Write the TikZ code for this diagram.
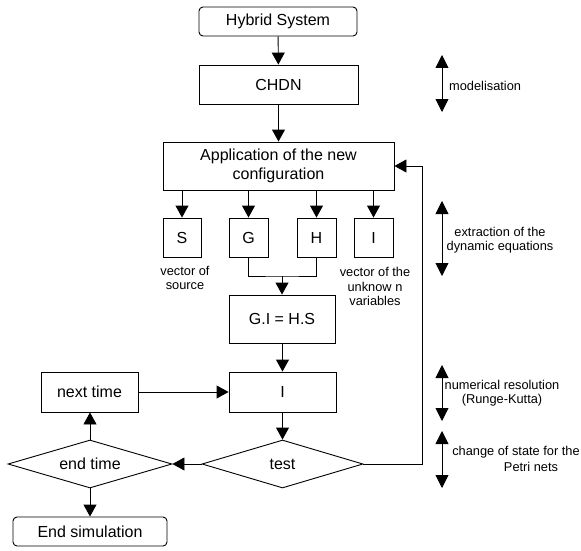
\documentclass[tikz,border=0pt]{standalone}
\usepackage{fontspec}
\setmainfont{Liberation Sans}
\usetikzlibrary{arrows.meta,shapes.geometric}
\tikzset{
  boxtxt/.style={font=\fontsize{16}{19}\selectfont},
  smalltxt/.style={font=\fontsize{12.8}{14.6}\selectfont, align=center, inner sep=0pt},
  box/.style={draw, line width=0.9pt, boxtxt, inner sep=0pt, align=center},
  rbox/.style={box, rounded corners=4pt},
  dia/.style={draw, line width=0.9pt, boxtxt, diamond, aspect=3.4, inner sep=0pt},
  arr/.style={line width=0.9pt, -{Triangle[length=12pt,width=13pt]}},
  ln/.style={line width=0.9pt},
  dbl/.style={line width=0.9pt, {Triangle[length=13pt,width=13pt]}-{Triangle[length=13pt,width=13pt]}},
}
\begin{document}
\begin{tikzpicture}[x=1pt,y=-1pt]
\useasboundingbox (0,0) rectangle (581,551);
% nodes
\node[rbox, minimum width=158pt, minimum height=29pt] (hs) at (278,21.5) {Hybrid System};
\node[box, minimum width=159pt, minimum height=39pt] (chdn) at (278.5,84.5) {CHDN};
\node[box, minimum width=231pt, minimum height=48pt] (app) at (278.5,166) {Application of the new\\configuration};
\node[box, minimum width=38pt, minimum height=39pt] (S) at (182,237.5) {S};
\node[box, minimum width=39pt, minimum height=39pt] (G) at (248.5,237.5) {G};
\node[box, minimum width=39pt, minimum height=39pt] (H) at (316.5,237.5) {H};
\node[box, minimum width=39pt, minimum height=39pt] (I) at (373.5,237.5) {I};
\node[box, minimum width=106pt, minimum height=48pt] (eq) at (282,319) {G.I = H.S};
\node[box, minimum width=107pt, minimum height=40pt] (Ib) at (282.5,392) {I};
\node[box, minimum width=97pt, minimum height=40pt] (next) at (89.5,392) {next time};
\node[dia, minimum width=161pt, minimum height=48pt] (test) at (282.5,464) {test};
\node[dia, minimum width=164pt, minimum height=48pt] (endt) at (90,464) {end time};
\node[rbox, minimum width=154pt, minimum height=29pt] (endsim) at (90,531.5) {End simulation};
% labels
\node[smalltxt] (vs) at (185,278) {vector of\\source};
\node[smalltxt] (vu) at (375,286.5) {vector of the\\unknow n\\variables};
\node[smalltxt, anchor=west] (lmod) at (449,86) {modelisation};
\node[smalltxt] (lext) at (500,240) {extraction of the\\dynamic equations};
\node[smalltxt] (lnum) at (502,393) {numerical resolution\\(Runge-Kutta)};
\node[smalltxt] (lch1) at (516,452) {change of state for the};
\node[smalltxt] (lch2) at (531,466.5) {Petri nets};
% connectors
\draw[arr] (hs) -- (chdn);
\draw[arr] (chdn) -- (app);
\draw[arr] (app.south -| S) -- (S.north);
\draw[arr] (app.south -| G) -- (G.north);
\draw[arr] (app.south -| H) -- (H.north);
\draw[arr] (app.south -| I) -- (I.north);
\coordinate (jn) at (282,276);
\draw[ln] (G.south) |- (jn) -| (H.south);
\draw[arr] (jn) -- (eq.north);
\draw[arr] (eq.south -| Ib) -- (Ib.north);
\draw[arr] (Ib) -- (test.north);
\draw[arr] (test.west) -- (endt.east);
\draw[arr] (endt.north) -- (endt.north |- next.south);
\draw[arr] (next.east) -- (Ib.west);
\draw[arr] (endt.south) -- (endt.south |- endsim.north);
\coordinate (fb) at (422,464);
\draw[arr] (test.east) -- (fb) |- (app.east);
% side arrows
\coordinate (m1) at (442,55); \coordinate (m2) at (442,112);
\coordinate (e1) at (442,201); \coordinate (e2) at (442,276);
\coordinate (n1) at (442,365); \coordinate (n2) at (442,421);
\coordinate (c1) at (442,431); \coordinate (c2) at (442,488);
\draw[dbl] (m1) -- (m2);
\draw[dbl] (e1) -- (e2);
\draw[dbl] (n1) -- (n2);
\draw[dbl] (c1) -- (c2);
\end{tikzpicture}
\end{document}
